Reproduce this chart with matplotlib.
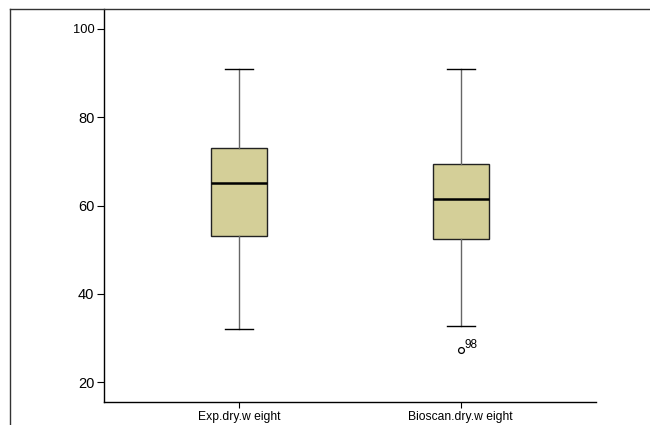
import matplotlib
matplotlib.use('Agg')
from matplotlib import pyplot as plt
from matplotlib.lines import Line2D

plt.rcParams['font.family'] = ['Liberation Sans', 'DejaVu Sans']

# box plot summary values
labels = ['Exp.dry.w eight', 'Bioscan.dry.w eight']
whis_hi = [91.0, 91.0]
q3 = [73.0, 69.4]
med = [65.1, 61.6]
q1 = [53.0, 52.4]
whis_lo = [32.0, 32.8]
outliers = [[], [27.2]]
outlier_ids = [[], ['98']]
yticks = [20, 40, 60, 80, 100]

fig = plt.figure(figsize=(6.5, 4.25), dpi=100)
ax = fig.add_axes([104/650, 1-401.7/425, (596-104)/650, (401.7-9)/425])

stats = []
for i in range(len(labels)):
    stats.append({'label': labels[i], 'med': med[i], 'q1': q1[i], 'q3': q3[i],
                  'whislo': whis_lo[i], 'whishi': whis_hi[i], 'fliers': outliers[i]})

ax.bxp(stats, positions=[1, 2], widths=0.253, patch_artist=True, showfliers=True,
       boxprops=dict(facecolor='#d4cf98', edgecolor='#222222', linewidth=1.0),
       medianprops=dict(color='black', linewidth=1.8),
       whiskerprops=dict(color='#666666', linewidth=1.0),
       capprops=dict(color='black', linewidth=1.0),
       capwidths=0.125,
       flierprops=dict(marker='o', markersize=4.2, markerfacecolor='white',
                       markeredgecolor='black', markeredgewidth=0.9))

# outlier case labels
for i in range(len(labels)):
    for v, t in zip(outliers[i], outlier_ids[i]):
        ax.annotate(t, (i + 1, v), xytext=(3, -0.5), textcoords='offset points',
                    fontsize=8.5, ha='left', va='bottom')

ax.set_xlim(0.39, 2.61)
ax.set_ylim(15.6, 104.5)
ax.set_yticks(yticks)
ax.set_yticklabels([str(t) for t in yticks])
for lab in ax.get_yticklabels():
    lab.set_fontsize(9.3 if lab.get_text() == '100' else 10.5)
ax.tick_params(axis='y', length=5, width=0.8, pad=2)
ax.tick_params(axis='x', length=4, width=0.8, labelsize=8.7, pad=3)

ax.spines['top'].set_visible(False)
ax.spines['right'].set_visible(False)
ax.spines['left'].set_linewidth(1.0)
ax.spines['bottom'].set_linewidth(1.0)

# outer frame of the chart
fig.add_artist(Line2D([10/650, 10/650], [0, 1-9/425], transform=fig.transFigure,
                      color='#333333', linewidth=1.0))
fig.add_artist(Line2D([10/650, 1], [1-9/425, 1-9/425], transform=fig.transFigure,
                      color='#333333', linewidth=1.0))

fig.savefig('out.png', dpi=100)
